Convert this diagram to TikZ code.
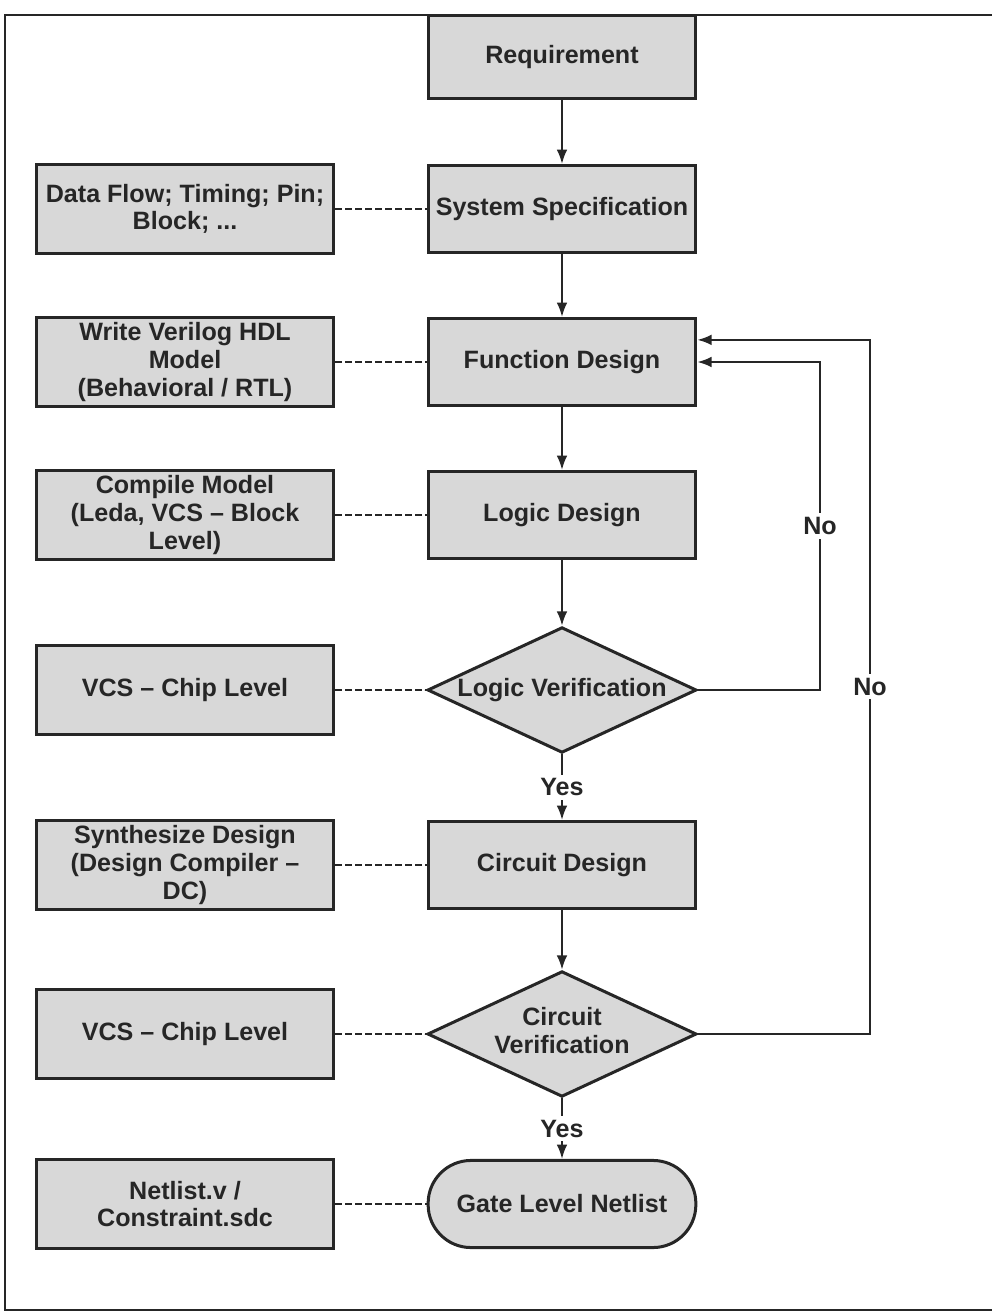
\documentclass[tikz,border=0pt]{standalone}
\usepackage{fontspec}
\setmainfont{Liberation Sans}
\usetikzlibrary{shapes.geometric,arrows.meta}
\definecolor{boxgray}{RGB}{216,216,216}
\definecolor{ink}{RGB}{38,38,38}

\begin{document}
\begin{tikzpicture}[x=0.014cm, y=-0.014cm,
 every node/.style={font=\fontsize{10}{11}\selectfont\bfseries, text=ink, align=center},
 box/.style={rectangle, draw=ink, fill=boxgray, line width=1.2pt, inner sep=0pt, minimum width=3.75cm, minimum height=1.22cm},
 note/.style={box, minimum width=4.17cm, minimum height=1.25cm},
 test/.style={diamond, draw=ink, fill=boxgray, line width=1.2pt, inner sep=0pt, minimum width=3.77cm, minimum height=1.76cm},
 term/.style={box, rounded corners=0.6cm},
 flow/.style={draw=ink, line width=0.8pt, -{Latex[length=2mm,width=1.5mm]}},
 link/.style={draw=ink, line width=0.9pt, dash pattern=on 0.9mm off 0.5mm},
 lbl/.style={fill=white, inner sep=1.5pt}]
 \useasboundingbox (0,0) rectangle (992,1312);
 \draw[ink, line width=1pt] (992,15) -- (5,15) -- (5,1310) -- (992,1310);

 % main flow
 \node (0) [box, minimum height=1.16cm] at (562,57) {Requirement};
 \node (1) [box] at (562,209) {System Specification};
 \node (2) [box] at (562,362) {Function Design};
 \node (3) [box] at (562,515) {Logic Design};
 \node (4) [test] at (562,690) {\makebox[0pt]{Logic Verification}};
 \node (5) [box] at (562,865) {Circuit Design};
 \node (6) [test] at (562,1034) {\makebox[0pt]{\begin{tabular}{@{}c@{}}Circuit\\Verification\end{tabular}}};
 \node (7) [term] at (562,1204) {Gate Level Netlist};

 % notes on the left
 \node (n1) [note] at (185,209) {Data Flow; Timing; Pin;\\Block; ...};
 \node (n2) [note] at (185,362) {Write Verilog HDL\\Model\\(Behavioral / RTL)};
 \node (n3) [note] at (185,515) {Compile Model\\(Leda, VCS – Block\\Level)};
 \node (n4) [note] at (185,690) {VCS – Chip Level};
 \node (n5) [note] at (185,865) {Synthesize Design\\(Design Compiler –\\DC)};
 \node (n6) [note] at (185,1034) {VCS – Chip Level};
 \node (n7) [note] at (185,1204) {Netlist.v /\\Constraint.sdc};

 \draw[flow] (0) -- (1);
 \draw[flow] (1) -- (2);
 \draw[flow] (2) -- (3);
 \draw[flow] (3) -- (4);
 \draw[flow] (4) -- node[lbl]{Yes} (5);
 \draw[flow] (5) -- (6);
 \draw[flow] (6) -- node[lbl]{Yes} (7);

 \draw[link] (n1) -- (1);
 \draw[link] (n2) -- (2);
 \draw[link] (n3) -- (3);
 \draw[link] (n4) -- (4);
 \draw[link] (n5) -- (5);
 \draw[link] (n6) -- (6);
 \draw[link] (n7) -- (7);

 % loops back
 \coordinate (r1) at (820,0);
 \coordinate (r2) at (870,0);
 \coordinate (f2) at ([yshift=0.31cm]2.east);
 \draw[flow] (4.east) -- (4.east -| r1) -- node[lbl]{No} (2.east -| r1) -- (2.east);
 \draw[flow] (6.east) -- (6.east -| r2) -- node[lbl]{No} (f2 -| r2) -- (f2);
\end{tikzpicture}
\end{document}
